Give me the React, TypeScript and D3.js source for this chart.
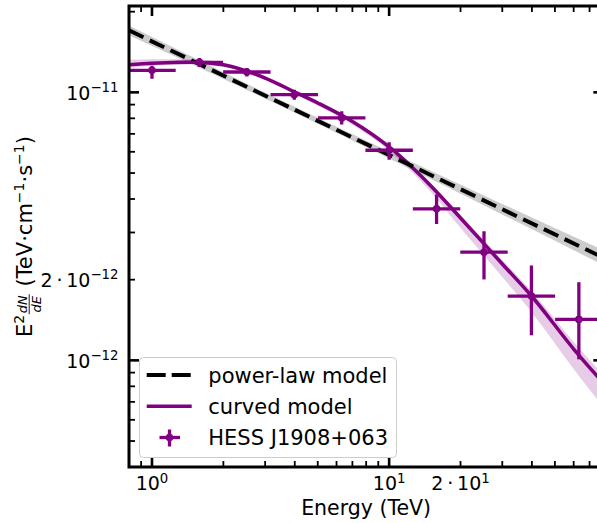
import React, { useEffect, useRef } from 'react';
import * as d3 from 'd3';

const W = 597;
const H = 523;

// HESS J1908+063 flux points (E^2 dN/dE in TeV cm^-2 s^-1)
const binCenters = [1.0, 1.585, 2.512, 3.981, 6.31, 10.0, 15.85, 25.12, 39.81, 63.1];
const binLow = [0.794, 1.259, 1.995, 3.162, 5.012, 7.943, 12.59, 19.95, 31.62, 50.12];
const binHigh = [1.259, 1.995, 3.162, 5.012, 7.943, 12.59, 19.95, 31.62, 50.12, 79.43];
const fluxPoints = [1.208e-11, 1.294e-11, 1.191e-11, 9.8e-12, 8.03e-12, 6.08e-12, 3.675e-12, 2.533e-12, 1.737e-12, 1.422e-12];
const fluxErrLow = [1.125e-11, 1.244e-11, 1.147e-11, 9.39e-12, 7.58e-12, 5.61e-12, 3.23e-12, 2.004e-12, 1.24e-12, 1.0085e-12];
const fluxErrHigh = [1.257e-11, 1.343e-11, 1.233e-11, 1.023e-11, 8.5e-12, 6.51e-12, 4.156e-12, 3.034e-12, 2.26e-12, 1.957e-12];

// curved model, sampled
const modelEnergies = [0.8, 1, 1.5, 2, 3, 4, 5, 7, 10, 15, 20, 30, 40, 60, 80];
const curvedModel = [1.268e-11, 1.285e-11, 1.296e-11, 1.268e-11, 1.131e-11, 1.0032e-11, 9.13e-12, 7.785e-12, 6.254e-12, 4.473e-12, 3.398e-12, 2.289e-12, 1.731e-12, 1.1024e-12, 8.23e-13];
const curvedLow = [1.236e-11, 1.257e-11, 1.274e-11, 1.2465e-11, 1.1117e-11, 9.86e-12, 8.932e-12, 7.587e-12, 6.043e-12, 4.248e-12, 3.119e-12, 2.047e-12, 1.509e-12, 9.287e-13, 6.695e-13];
const curvedHigh = [1.324e-11, 1.33e-11, 1.33e-11, 1.29e-11, 1.1506e-11, 1.0206e-11, 9.287e-12, 7.92e-12, 6.389e-12, 4.59e-12, 3.487e-12, 2.369e-12, 1.807e-12, 1.1707e-12, 8.818e-13];

// power-law model
const plEnergies = [0.8, 80];
const powerLaw = [1.703e-11, 2.417e-12];
const plBandEnergies = [0.8, 3, 10, 30, 80];
const plBandLow = [1.635e-11, 9.48e-12, 5.665e-12, 3.504e-12, 2.266e-12];
const plBandHigh = [1.776e-11, 9.98e-12, 6.017e-12, 3.833e-12, 2.578e-12];

// ticks
const xMajorTicks = [1, 10];
const xMinorTicks = [0.9, 2, 3, 4, 5, 6, 7, 8, 9, 20, 30, 40, 50, 60, 70];
const xTickLabels = [
  { v: 1, pre: '', exp: '0' },
  { v: 10, pre: '', exp: '1' },
  { v: 20, pre: '2\u2009·\u2009', exp: '1' },
];
const yMajorTicks = [1e-12, 1e-11];
const yMinorTicks = [5e-13, 6e-13, 7e-13, 8e-13, 9e-13, 2e-12, 3e-12, 4e-12, 5e-12, 6e-12, 7e-12, 8e-12, 9e-12, 2e-11];
const yTickLabels = [
  { v: 1e-11, pre: '', exp: '\u221211' },
  { v: 2e-12, pre: '2\u2009·\u2009', exp: '\u221212' },
  { v: 1e-12, pre: '', exp: '\u221212' },
];
const legendLabels = ['power-law model', 'curved model', 'HESS J1908+063'];

const FONT = 'DejaVu Sans';
const PURPLE = '#800080';

export default function App() {
  const ref = useRef<SVGSVGElement>(null);

  useEffect(() => {
    const svg = d3.select(ref.current);
    svg.selectAll('*').remove();
    const x = d3.scaleLog().domain([0.8, 80]).range([129, 603.3]);
    const y = d3.scaleLog().domain([4e-13, 2.1e-11]).range([467, 6]);
    const x0 = 129, x1 = 603.3, yTop = 6, yBot = 467;

    svg.append('rect').attr('width', W).attr('height', H).attr('fill', 'white');
    const defs = svg.append('defs');
    defs.append('clipPath').attr('id', 'plotclip').append('rect')
      .attr('x', x0).attr('y', yTop).attr('width', x1 - x0).attr('height', yBot - yTop);

    const g = svg.append('g').attr('clip-path', 'url(#plotclip)');

    const plArea = d3.area<number>()
      .x((_, i) => x(plBandEnergies[i]))
      .y0((_, i) => y(plBandLow[i]))
      .y1((_, i) => y(plBandHigh[i]))
      .curve(d3.curveMonotoneX);
    g.append('path').attr('d', plArea(plBandEnergies) as string).attr('fill', '#000').attr('fill-opacity', 0.2);

    const cArea = d3.area<number>()
      .x((_, i) => x(modelEnergies[i]))
      .y0((_, i) => y(curvedLow[i]))
      .y1((_, i) => y(curvedHigh[i]))
      .curve(d3.curveMonotoneX);
    g.append('path').attr('d', cArea(modelEnergies) as string).attr('fill', PURPLE).attr('fill-opacity', 0.2);

    const cLine = d3.line<number>()
      .x((_, i) => x(modelEnergies[i]))
      .y((_, i) => y(curvedModel[i]))
      .curve(d3.curveMonotoneX);
    g.append('path').attr('d', cLine(modelEnergies) as string).attr('fill', 'none')
      .attr('stroke', PURPLE).attr('stroke-width', 3.5);

    const plLine = d3.line<number>()
      .x((_, i) => x(plEnergies[i]))
      .y((_, i) => y(powerLaw[i]));
    g.append('path').attr('d', plLine(plEnergies) as string).attr('fill', 'none')
      .attr('stroke', '#000').attr('stroke-width', 4).attr('stroke-dasharray', '16,7');

    binCenters.forEach((e, i) => {
      g.append('line').attr('x1', x(binLow[i])).attr('x2', x(binHigh[i]))
        .attr('y1', y(fluxPoints[i])).attr('y2', y(fluxPoints[i]))
        .attr('stroke', PURPLE).attr('stroke-width', 3.3);
      g.append('line').attr('x1', x(e)).attr('x2', x(e))
        .attr('y1', y(fluxErrLow[i])).attr('y2', y(fluxErrHigh[i]))
        .attr('stroke', PURPLE).attr('stroke-width', 3.3);
      g.append('circle').attr('cx', x(e)).attr('cy', y(fluxPoints[i])).attr('r', 3.8).attr('fill', PURPLE);
    });

    const ax = svg.append('g');
    ax.append('rect').attr('x', x0).attr('y', yTop).attr('width', x1 - x0).attr('height', yBot - yTop)
      .attr('fill', 'none').attr('stroke', '#000').attr('stroke-width', 3);

    const tick = (xa: number, ya: number, xb: number, yb: number, w: number) =>
      ax.append('line').attr('x1', xa).attr('y1', ya).attr('x2', xb).attr('y2', yb)
        .attr('stroke', '#000').attr('stroke-width', w);

    xMajorTicks.forEach(v => { tick(x(v), yBot, x(v), yBot - 10, 2.6); tick(x(v), yTop, x(v), yTop + 10, 2.6); });
    xMinorTicks.forEach(v => { tick(x(v), yBot, x(v), yBot - 6, 1.8); tick(x(v), yTop, x(v), yTop + 6, 1.8); });
    yMajorTicks.forEach(v => { tick(x0, y(v), x0 + 10, y(v), 2.6); tick(x1, y(v), x1 - 10, y(v), 2.6); });
    yMinorTicks.forEach(v => { tick(x0, y(v), x0 + 6, y(v), 1.8); tick(x1, y(v), x1 - 6, y(v), 1.8); });

    const FS = 19;
    xTickLabels.forEach(t => {
      const tx = ax.append('text').attr('x', x(t.v)).attr('y', 490).attr('text-anchor', 'middle')
        .attr('font-family', FONT).attr('font-size', FS).attr('fill', '#000');
      tx.append('tspan').text(t.pre + '10');
      tx.append('tspan').attr('dy', -7.5).attr('font-size', FS * 0.7).text(t.exp);
    });
    yTickLabels.forEach(t => {
      const tx = ax.append('text').attr('x', 118.5).attr('y', y(t.v) + 7.3).attr('text-anchor', 'end')
        .attr('font-family', FONT).attr('font-size', FS).attr('fill', '#000');
      tx.append('tspan').text(t.pre + '10');
      tx.append('tspan').attr('dy', -7.5).attr('font-size', FS * 0.7).text(t.exp);
    });

    ax.append('text').attr('x', (x0 + x1) / 2).attr('y', 515).attr('text-anchor', 'middle')
      .attr('font-family', FONT).attr('font-size', 20.5).attr('fill', '#000').text('Energy (TeV)');

    // y label (rotated, built from pieces)
    const yl = ax.append('g');
    let u = 0;
    const piece = (txt: string, size: number, v: number) => {
      const t = yl.append('text').attr('x', u).attr('y', v).attr('font-family', FONT)
        .attr('font-size', size).attr('fill', '#000').text(txt);
      u += (t.node() as SVGTextElement).getComputedTextLength();
    };
    const LF = 21;
    piece('E', LF, 0);
    piece('2', 14, -8.5);
    const fStart = u + 0.5;
    const num = yl.append('text').attr('y', -4.8).attr('font-family', FONT).attr('font-size', 13)
      .attr('font-style', 'italic').attr('text-anchor', 'middle').text('dN');
    const den = yl.append('text').attr('y', 8.5).attr('font-family', FONT).attr('font-size', 13)
      .attr('font-style', 'italic').attr('text-anchor', 'middle').text('dE');
    const fw = Math.max((num.node() as SVGTextElement).getComputedTextLength(), (den.node() as SVGTextElement).getComputedTextLength()) + 2;
    num.attr('x', fStart + fw / 2);
    den.attr('x', fStart + fw / 2);
    yl.append('line').attr('x1', fStart).attr('x2', fStart + fw).attr('y1', -2.8).attr('y2', -2.8)
      .attr('stroke', '#000').attr('stroke-width', 0.9);
    u = fStart + fw + 1;
    piece('\u00a0(TeV·cm', LF, 0);
    piece('\u22121', 14, -8.5);
    piece('·s', LF, 0);
    piece('\u22121', 14, -8.5);
    piece(')', LF, 0);
    const total = u;
    yl.attr('transform', `translate(32, ${(yTop + yBot) / 2}) rotate(-90) translate(${-total / 2}, 0)`);

    // legend
    const lg = svg.append('g');
    lg.append('rect').attr('x', 139.5).attr('y', 357.5).attr('width', 257).attr('height', 100).attr('rx', 4)
      .attr('fill', 'white').attr('fill-opacity', 0.8).attr('stroke', '#cccccc').attr('stroke-width', 1);
    const rows = [375, 406.3, 437.5];
    lg.append('line').attr('x1', 146.7).attr('x2', 191.7).attr('y1', rows[0]).attr('y2', rows[0])
      .attr('stroke', '#000').attr('stroke-width', 4).attr('stroke-dasharray', '19,6');
    lg.append('line').attr('x1', 146.7).attr('x2', 191.7).attr('y1', rows[1]).attr('y2', rows[1])
      .attr('stroke', PURPLE).attr('stroke-width', 3.5);
    lg.append('line').attr('x1', 159.5).attr('x2', 180).attr('y1', rows[2]).attr('y2', rows[2])
      .attr('stroke', PURPLE).attr('stroke-width', 3.3);
    lg.append('line').attr('x1', 169.5).attr('x2', 169.5).attr('y1', rows[2] - 8).attr('y2', rows[2] + 9)
      .attr('stroke', PURPLE).attr('stroke-width', 3.3);
    lg.append('circle').attr('cx', 169.5).attr('cy', rows[2]).attr('r', 3.8).attr('fill', PURPLE);
    legendLabels.forEach((l, i) => {
      lg.append('text').attr('x', 208.3).attr('y', rows[i] + 7.8).attr('font-family', FONT)
        .attr('font-size', 21).attr('fill', '#000').text(l);
    });
  }, []);

  return (
    <svg ref={ref} width={W} height={H} style={{ position: 'absolute', left: 0, top: 0 }} />
  );
}
